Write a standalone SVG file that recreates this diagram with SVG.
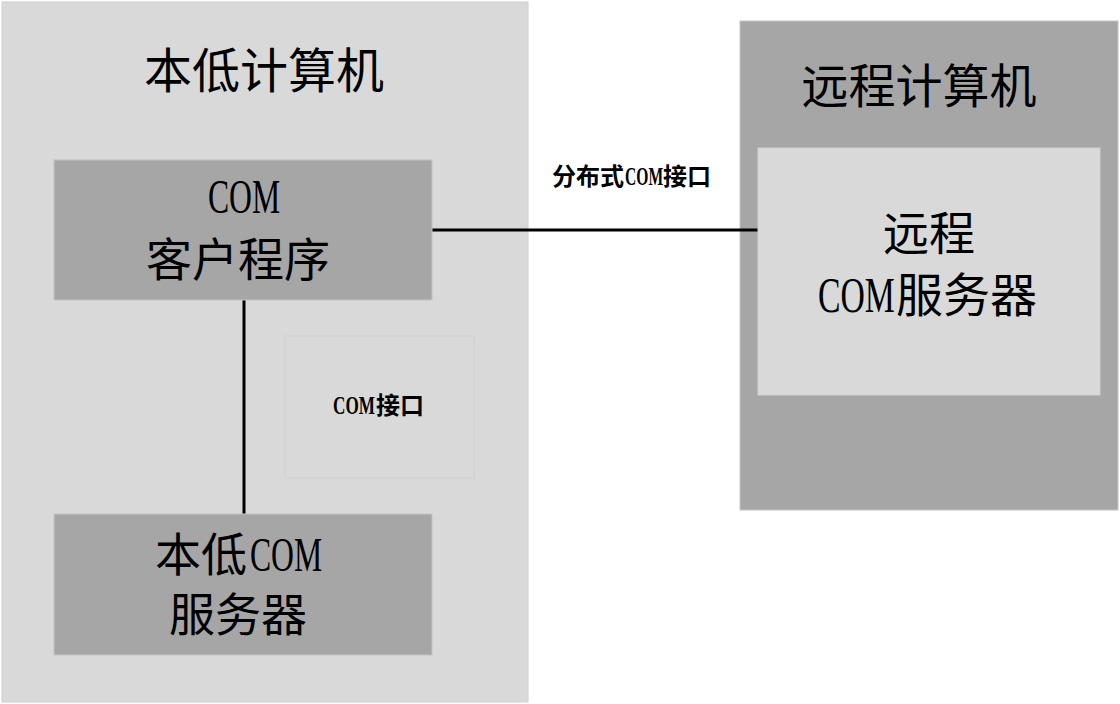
<svg xmlns="http://www.w3.org/2000/svg" width="1120" height="704" viewBox="0 0 1120 704">
<style>
.cjk{font-family:"Noto Sans CJK SC","Noto Sans CJK JP",sans-serif;fill:#000}
.lat{font-family:"Liberation Serif",serif;fill:#000}
.b{font-weight:bold}
.dark{fill:#a6a6a6;stroke:#c4c4c4;stroke-width:1}
.light{fill:#d9d9d9;stroke:#d0d0d0;stroke-width:1}
.conn{stroke:#000;stroke-width:3;fill:none}
</style>
<rect width="1120" height="704" fill="#ffffff"/>
<g id="local-computer">
<rect class="light" x="2" y="2" width="526" height="700"/>
<text class="cjk" x="264" y="88" font-size="48" text-anchor="middle">本低计算机</text>
</g>
<g id="remote-computer">
<rect class="dark" x="740" y="21" width="378" height="489"/>
<text class="cjk" x="919" y="103" font-size="47" text-anchor="middle">远程计算机</text>
</g>
<g id="connectors">
<line class="conn" x1="432" y1="230" x2="759" y2="230"/>
<line class="conn" x1="244" y1="300" x2="244" y2="514"/>
</g>
<g id="com-client">
<rect class="dark" x="54" y="160" width="378" height="140"/>
<text class="lat" transform="translate(208 213) scale(0.66 1)" x="0" y="0" font-size="48">COM</text>
<text class="cjk" x="238" y="276" font-size="46" text-anchor="middle">客户程序</text>
</g>
<g id="com-interface">
<rect class="light" x="285" y="336" width="189" height="142" stroke="#cccccc"/>
<text class="lat b" transform="translate(333 414) scale(0.66 1)" x="0" y="0" font-size="26">COM</text>
<text class="cjk b" x="376" y="414" font-size="24">接口</text>
</g>
<g id="local-server">
<rect class="dark" x="54" y="514" width="378" height="141"/>
<text class="cjk" x="155" y="571" font-size="46">本低</text>
<text class="lat" transform="translate(250 571) scale(0.66 1)" x="0" y="0" font-size="48">COM</text>
<text class="cjk" x="238" y="631" font-size="46" text-anchor="middle">服务器</text>
</g>
<g id="remote-server">
<rect class="light" x="758" y="148" width="342" height="247"/>
<text class="cjk" x="929" y="250" font-size="46" text-anchor="middle">远程</text>
<text class="lat" transform="translate(818 312) scale(0.675 1)" x="0" y="0" font-size="50">COM</text>
<text class="cjk" x="896" y="312" font-size="47">服务器</text>
</g>
<g id="dcom-label">
<text class="cjk b" x="552" y="185" font-size="24">分布式</text>
<text class="lat b" transform="translate(625 185) scale(0.6 1)" x="0" y="0" font-size="26">COM</text>
<text class="cjk b" x="663" y="185" font-size="24">接口</text>
</g>
</svg>
